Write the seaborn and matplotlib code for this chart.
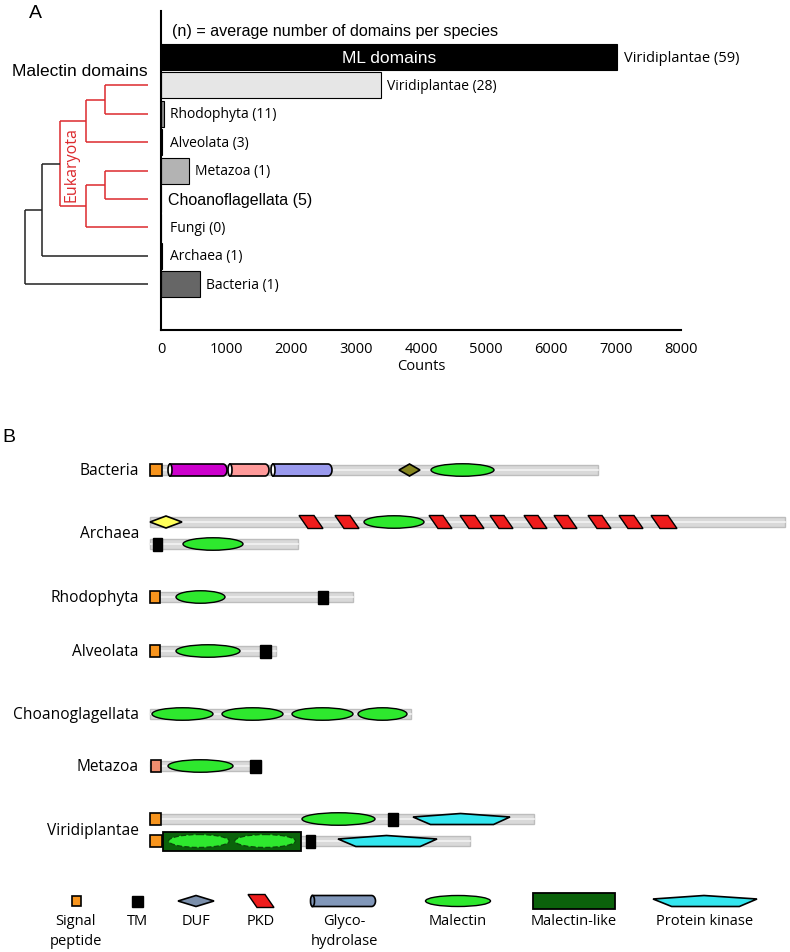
import numpy as np
import pandas as pd
import matplotlib
matplotlib.use("Agg")
import matplotlib.pyplot as plt
import seaborn as sns
from matplotlib.patches import Rectangle, Ellipse, Polygon

sns.set_style("white")
plt.rcParams["font.family"] = ["Open Sans", "DejaVu Sans"]
plt.rcParams["text.color"] = "black"
plt.rcParams["axes.labelcolor"] = "black"

# ---------------- Panel A data ----------------
rows = ["ML domains", "Viridiplantae", "Rhodophyta", "Alveolata", "Metazoa",
        "Choanoflagellata", "Fungi", "Archaea", "Bacteria"]
row_labels = ["Viridiplantae", "Viridiplantae", "Rhodophyta", "Alveolata", "Metazoa",
              "Choanoflagellata", "Fungi", "Archaea", "Bacteria"]
counts = [7010, 3390, 50, 15, 430, 5, 0, 15, 600]
avg_domains = [59, 28, 11, 3, 1, 5, 0, 1, 1]
bar_colors = ["#000000", "#e6e6e6", "#8c8c8c", "#8c8c8c", "#b3b3b3",
              "#8c8c8c", "#8c8c8c", "#8c8c8c", "#666666"]

# cladogram of the taxa (leaf names = rows)
tree = (((((("Viridiplantae", "Rhodophyta"), "Alveolata"),
           (("Metazoa", "Choanoflagellata"), "Fungi")), "Archaea"), "Bacteria"))

# ---------------- Panel B data (positions in aa) ----------------
gene_species = ["Bacteria", "Archaea", "Archaea", "Rhodophyta", "Alveolata",
                "Choanoglagellata", "Metazoa", "Viridiplantae", "Viridiplantae"]
gene_length = [896, 1270, 296, 406, 252, 522, 222, 768, 640]

bacteria_domains = [("signal", 0, 24), ("gh1", 40, 154), ("gh2", 160, 238), ("gh3", 246, 364),
                    ("duf2", 498, 540), ("malectin", 562, 688)]
archaea_long = [("duf3", 0, 64), ("pkd", 298, 346), ("pkd", 370, 418), ("malectin", 428, 548),
                ("pkd", 558, 604), ("pkd", 620, 668), ("pkd", 680, 726), ("pkd", 748, 794),
                ("pkd", 808, 854), ("pkd", 876, 922), ("pkd", 938, 986), ("pkd", 1002, 1054)]
archaea_short = [("tm", 6, 24), ("malectin", 66, 186)]
rhodophyta_domains = [("signal", 0, 20), ("malectin", 52, 150), ("tm", 336, 356)]
alveolata_domains = [("signal", 0, 20), ("malectin", 52, 180), ("tm", 220, 242)]
choano_domains = [("malectin", 4, 126), ("malectin", 144, 266), ("malectin", 284, 406),
                  ("malectin", 416, 514)]
metazoa_domains = [("signal2", 2, 22), ("malectin", 36, 166), ("tm", 200, 222)]
viridi_long = [("signal", 0, 22), ("malectin", 304, 450), ("tm", 476, 496), ("kinase", 526, 720)]
viridi_short = [("signal", 0, 24), ("malectinlike", 26, 302), ("tm", 312, 330), ("kinase", 376, 574)]
gene_domains = [bacteria_domains, archaea_long, archaea_short, rhodophyta_domains,
                alveolata_domains, choano_domains, metazoa_domains, viridi_long, viridi_short]

legend_kinds = ["signal", "tm", "duf", "pkd", "gh", "malectin", "malectinlike", "kinase"]
legend_names = ["Signal\npeptide", "TM", "DUF", "PKD", "Glyco-\nhydrolase",
                "Malectin", "Malectin-like", "Protein kinase"]

# styles
RED = "#dc2a2e"
DARK = "#222222"
colors = {"signal": "#f7941d", "signal2": "#f08d6e", "tm": "#000000",
          "duf": "#7b8fab", "duf2": "#858520", "duf3": "#ffff5a",
          "pkd": "#ee1c1c", "gh": "#8197b9", "gh1": "#cc00cc", "gh2": "#ff9a9a",
          "gh3": "#9a9aee", "malectin": "#2ee82e", "malectinlike": "#0b620b",
          "kinase": "#33e6ef"}

# layout (pixels)
track_y = [471, 523, 545, 598, 652, 715, 767, 820, 842]
legend_x = [76, 137, 196, 261, 344, 458, 574, 705]
legend_w = [9, 11, 36, 26, 63, 65, 82, 104]


def capsule(axis, x0, x1, y, h, r, color):
    t = np.linspace(-np.pi / 2, np.pi / 2, 25)
    xs = [x0] + list(x1 - r + r * np.cos(t)) + [x0]
    ys = [y - h / 2] + list(y + h / 2 * np.sin(t)) + [y + h / 2]
    axis.add_patch(Polygon(np.column_stack([xs, ys]), closed=True, fc=color, ec="black", lw=1.2, zorder=3))


def draw_domain(axis, kind, x0, x1, y, sx, legend=False):
    c = colors[kind]
    w = x1 - x0
    if kind.startswith("signal"):
        h = 10 if legend else 12
        axis.add_patch(Rectangle((x0, y - h / 2), w, h, fc=c, ec="black", lw=1.2, zorder=3))
    elif kind == "tm":
        h = 11 if legend else 13
        axis.add_patch(Rectangle((x0, y - h / 2), w, h, fc=c, ec="black", lw=1, zorder=3))
    elif kind.startswith("duf"):
        h = 11 if legend else 12
        xm = (x0 + x1) / 2
        axis.add_patch(Polygon([(x0, y), (xm, y - h / 2), (x1, y), (xm, y + h / 2)],
                               fc=c, ec="black", lw=1.2, zorder=3))
    elif kind == "pkd":
        s = 9 * sx
        axis.add_patch(Polygon([(x0, y - 6.5), (x1 - s, y - 6.5), (x1, y + 6.5), (x0 + s, y + 6.5)],
                               fc=c, ec="black", lw=1, zorder=3))
    elif kind.startswith("gh"):
        h = 11 if legend else 12
        capsule(axis, x0, x1, y, h, 4 * sx, c)
        axis.add_patch(Ellipse((x0, y), 4 * sx, h, fc=c if legend else "white", ec="black",
                               lw=1.2, zorder=4))
    elif kind == "malectin":
        h = 11 if legend else 12.5
        axis.add_patch(Ellipse(((x0 + x1) / 2, y), w, h, fc=c, ec="black", lw=1, zorder=3))
    elif kind == "malectinlike":
        h = 16 if legend else 19
        axis.add_patch(Rectangle((x0, y - h / 2), w, h, fc=c, ec="black", lw=1.3, zorder=3))
        if not legend:
            for f in (0.26, 0.74):
                axis.add_patch(Ellipse((x0 + f * w, y), 0.44 * w, 13, fc=colors["malectin"],
                                       ec="#0a4a0a", lw=1, ls="--", zorder=4))
    elif kind == "kinase":
        axis.add_patch(Polygon([(x0, y - 2), (x0 + 0.49 * w, y - 5.5), (x1, y - 2),
                                (x0 + 0.83 * w, y + 5.5), (x0 + 0.18 * w, y + 5.5)],
                               fc=c, ec="black", lw=1.2, zorder=3))


fig = plt.figure(figsize=(7.9, 9.53), dpi=100)

# ---------------- Panel A: bars ----------------
ax = fig.add_axes([161 / 790, 1 - 331 / 953, 520 / 790, 319 / 953])
df = pd.DataFrame({"row": rows, "count": counts})
sns.barplot(data=df, x="count", y="row", hue="row", order=rows, hue_order=rows,
            palette=bar_colors, width=0.92, edgecolor="black", linewidth=0.8,
            errorbar=None, legend=False, ax=ax)
ax.set_xlim(0, 8000)
ax.set_ylim(9.61, -1.62)
ax.set_xticks(range(0, 8001, 1000))
ax.set_yticks([])
ax.set_ylabel("")
ax.set_xlabel("Counts", fontsize=10.5, labelpad=1)
ax.tick_params(axis="x", direction="in", length=7, width=1.3, pad=8, labelsize=10.5,
               colors="black")
for side in ["top", "right"]:
    ax.spines[side].set_visible(False)
for side in ["left", "bottom"]:
    ax.spines[side].set_linewidth(1.5)
    ax.spines[side].set_color("black")

for i, (lab, n, c) in enumerate(zip(row_labels, avg_domains, counts)):
    if i == 0:
        ax.annotate(f"{lab} ({n})", xy=(c, i), xytext=(5, 0), textcoords="offset points",
                    va="center", fontsize=10.5)
    elif lab == "Choanoflagellata":
        ax.annotate(f"{lab} ({n})", xy=(max(c, 60), i), xytext=(2, 0), textcoords="offset points",
                    va="center", fontsize=11.5, family=["Liberation Sans", "DejaVu Sans"])
    else:
        ax.annotate(f"{lab} ({n})", xy=(max(c, 60), i), xytext=(4, 0), textcoords="offset points",
                    va="center", fontsize=10)
ax.text(counts[0] / 2, 0, "ML domains", color="white", ha="center", va="center",
        fontsize=12.5, family=["Liberation Sans", "DejaVu Sans"])
ax.annotate("(n) = average number of domains per species", xy=(0, -0.92), xytext=(8, 0),
            textcoords="offset points", va="center", fontsize=11.6,
            family=["Liberation Sans", "DejaVu Sans"])

# ---------------- Panel A: tree ----------------
ax_tree = fig.add_axes([0, 1 - 331 / 953, 161 / 790, 319 / 953], sharey=ax)
ax_tree.set_xlim(0, 161)
ax_tree.axis("off")
clade_x = [25, 42, 60, 86, 105]
leaf_x = 148
ypos = {name: i for i, name in enumerate(rows)}


def draw_clade(node, depth):
    if isinstance(node, str):
        return ypos[node]
    ys = [draw_clade(ch, depth + 1) for ch in node]
    x = clade_x[depth]
    col = RED if depth >= 2 else DARK
    ax_tree.plot([x, x], [min(ys), max(ys)], color=col, lw=1.1, solid_capstyle="butt")
    for ch, y in zip(node, ys):
        x_end = leaf_x if isinstance(ch, str) else clade_x[depth + 1]
        ax_tree.plot([x, x_end], [y, y], color=col, lw=1.1, solid_capstyle="butt")
    return np.mean(ys)


draw_clade(tree, 0)
ax_tree.text(72, 3.75, "Eukaryota", rotation=90, color=RED, ha="center", va="center", fontsize=11.5)

# ---------------- overlay for labels / legend (pixel coords) ----------------
ov = fig.add_axes([0, 0, 1, 1])
ov.set_xlim(0, 790)
ov.set_ylim(953, 0)
ov.axis("off")
ov.text(35, 13, "A", fontsize=14, ha="center", va="center", family=["Liberation Sans", "DejaVu Sans"])
ov.text(9, 438, "B", fontsize=14, ha="center", va="center", family=["Liberation Sans", "DejaVu Sans"])
ov.text(12, 72, "Malectin domains", fontsize=12.5, va="center",
        family=["Liberation Sans", "DejaVu Sans"])

# ---------------- Panel B: domain architectures ----------------
ax_b = fig.add_axes([0, 0, 1, 1])
ax_b.set_xlim(-300, 1280)
ax_b.set_ylim(953, 0)
ax_b.axis("off")

for y, length, doms in zip(track_y, gene_length, gene_domains):
    ax_b.add_patch(Rectangle((0, y - 5), length, 10, fc="#d9d9d9", ec="#bdbdbd", lw=1, zorder=1))
    ax_b.plot([0, length], [y - 0.5, y - 0.5], color="#eeeeee", lw=1.5, zorder=1.5)
    for kind, s, e in doms:
        draw_domain(ax_b, kind, s, e, y, 2)

for sp in dict.fromkeys(gene_species):
    ys = [y for y, g in zip(track_y, gene_species) if g == sp]
    ov.text(139, np.mean(ys), sp, ha="right", va="center", fontsize=11.2)

# legend
for kind, name, x, w in zip(legend_kinds, legend_names, legend_x, legend_w):
    draw_domain(ov, kind, x - w / 2, x + w / 2, 902, 1, legend=True)
    ov.text(x, 914.5, name, ha="center", va="top", fontsize=10.5, linespacing=1.42)

fig.savefig("out.png", dpi=100)
